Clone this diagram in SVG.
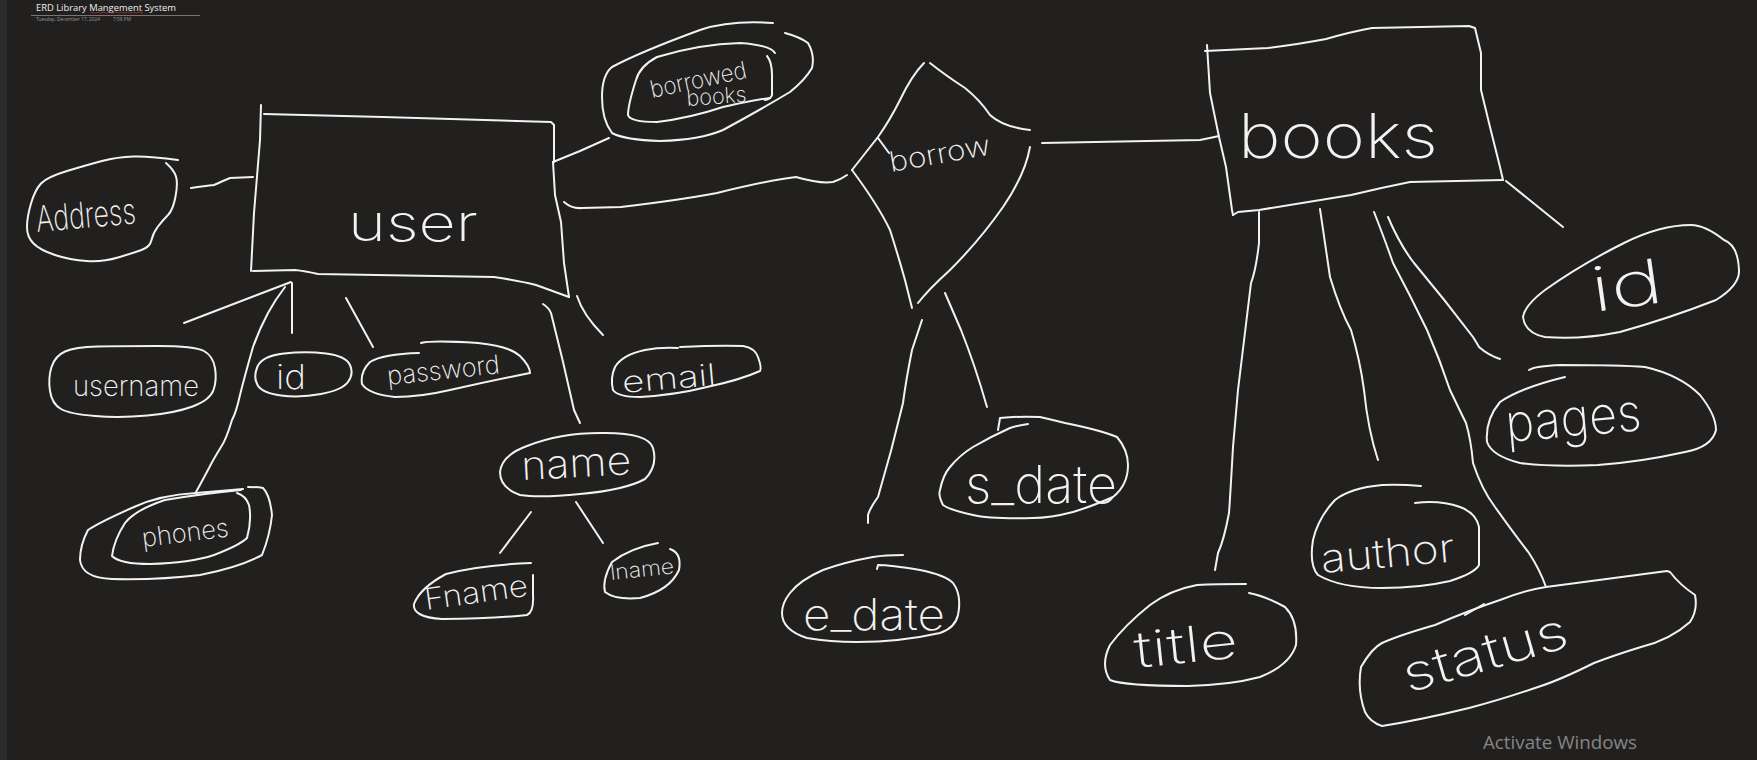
<svg xmlns="http://www.w3.org/2000/svg" width="1757" height="760" viewBox="0 0 1757 760">
  <style>
    .ln { fill: none; stroke: #f2f2f2; stroke-width: 2; stroke-linecap: round; stroke-linejoin: round; }
    .hw { font-family: Inter, "Open Sans", "Liberation Sans", sans-serif; font-weight: 200; fill: #f2f2f2; }
    .hdr { font-family: "Open Sans", "Liberation Sans", sans-serif; }
  </style>

  <!-- page background and side strip -->
  <rect x="0" y="0" width="1757" height="760" fill="#21201f"/>
  <rect x="0" y="0" width="7" height="760" fill="#2c2c2c"/>

  <!-- page header -->
  <g id="page-header">
    <text class="hdr" x="36" y="10.7" font-size="9" fill="#eeeeee" textLength="140" lengthAdjust="spacingAndGlyphs">ERD Library Mangement System</text>
    <path d="M90,12.6 q1.5,-0.8 3,0 t3,0 t3,0 t3,0 t3,0 t3,0 t3,0 t3,0 t3,0 t3,0 t3,0 t3,0 t3,0 t3,0 t3,0 t3,0 t3,0 t2,0" fill="none" stroke="#d0312d" stroke-width="0.6"/>
    <line x1="31" y1="15.5" x2="200" y2="15.5" stroke="#8c8c8c" stroke-width="0.8"/>
    <text class="hdr" x="36" y="20.5" font-size="4.5" fill="#9a9a9a" textLength="64" lengthAdjust="spacingAndGlyphs">Tuesday, December 17, 2024</text>
    <text class="hdr" x="113" y="20.5" font-size="4.5" fill="#9a9a9a" textLength="18" lengthAdjust="spacingAndGlyphs">7:58 PM</text>
  </g>

  <!-- relationship lines -->
  <g id="connectors" class="ln">
    <path d="M191,188 Q205,186 214,185 Q225,180 230,178 L253,177"/>
    <path d="M291,282 L184,323"/>
    <path d="M285,287 Q275,300 268,313 Q259,330 253,347 Q245,375 240,395 Q236,413 232,420 Q226,440 221,447 Q213,460 209,468 Q200,485 196,492"/>
    <path d="M292,283 L292,333"/>
    <path d="M346,298 L373,347"/>
    <path d="M543,304 Q549,308 551,313 Q563,360 574,410 L580,423"/>
    <path d="M577,296 Q583,315 603,335"/>
    <path d="M531,512 L500,553"/>
    <path d="M576,502 L603,543"/>
    <path d="M553,162 L580,151 L609,138"/>
    <path d="M564,202 Q572,209 582,208 L621,207 Q680,200 717,193 Q770,180 796,177 Q820,184 833,182 Q840,180 847,175"/>
    <path d="M1042,143 L1200,140 Q1210,138 1219,136"/>
    <path d="M945,293 L961,330 Q975,365 987,407"/>
    <path d="M922,320 L912,350 Q906,380 903,403 Q892,450 878,497 Q870,508 868,515 L868,523"/>
    <path d="M1506,181 L1563,227"/>
    <path d="M1259,212 L1259,243 Q1256,270 1251,283 Q1244,340 1238,390 L1233,447 Q1230,500 1229,513 Q1224,540 1218,553 L1215,570"/>
    <path d="M1320,209 Q1326,250 1330,277 Q1340,310 1351,330 Q1360,360 1364,390 Q1368,430 1378,460"/>
    <path d="M1374,212 Q1385,240 1393,263 Q1410,295 1427,330 Q1440,360 1450,390 Q1462,415 1466,423 Q1471,440 1473,463 Q1482,490 1495,507 Q1515,535 1529,553 Q1540,570 1546,587"/>
    <path d="M1388,217 Q1400,245 1414,263 Q1445,300 1473,337 Q1478,345 1479,347 Q1488,355 1500,359"/>
  </g>

  <!-- entity: user -->
  <g id="entity-user">
    <g class="ln">
      <path d="M261,105 L260,140 L254,213 L251,271"/>
      <path d="M264,114 L383,117 L551,122 L554,125 L554,162"/>
      <path d="M553,162 L555,195 L561,222 L564,263 L569,297"/>
      <path d="M253,271 L295,270 Q305,271 318,274 L494,277 Q520,281 536,285 L569,297"/>
    </g>
    <text class="hw" x="348" y="241" font-size="50" textLength="130" lengthAdjust="spacingAndGlyphs">user</text>
  </g>

  <!-- entity: books -->
  <g id="entity-books">
    <g class="ln">
      <path d="M1207,45 L1210,93 L1219,137 L1226,167 L1232,210 L1233,215"/>
      <path d="M1205,51 L1268,48 Q1300,44 1326,39 Q1350,32 1372,28 L1469,26 L1475,28 L1481,53 L1481,90 L1490,127 L1500,167 L1503,180"/>
      <path d="M1503,180 L1410,182 Q1380,188 1351,195 L1259,210 L1238,212 L1233,215"/>
    </g>
    <text class="hw" x="1238" y="158" font-size="62" textLength="200" lengthAdjust="spacingAndGlyphs">books</text>
  </g>

  <!-- relationship: borrow -->
  <g id="rel-borrow">
    <g class="ln">
      <path d="M852,170 L878,137 Q890,120 900,100 Q912,75 924,63"/>
      <path d="M930,63 Q945,75 965,88 Q980,100 990,115 Q1003,127 1030,130"/>
      <path d="M1030,147 Q1025,175 1003,207 Q980,240 950,270 Q928,290 918,303"/>
      <path d="M852,170 Q878,205 890,230 Q898,255 905,280 L912,308"/>
      <path d="M878,138 L889,153"/>
    </g>
    <text class="hw" x="891" y="172" font-size="28" textLength="102" lengthAdjust="spacingAndGlyphs" transform="rotate(-10 891 172)">borrow</text>
  </g>

  <!-- user attributes -->
  <g id="attr-address">
    <path class="ln" d="M178,160 Q150,156 133.5,156.5 Q117,157 102,161 Q87,165 67,171 Q47,177 41,183.5 Q35,190 31,203.5 Q27,217 27,227 Q27,237 33.5,243.5 Q40,250 55,255 Q70,260 86.5,261 Q103,262 118,257.5 Q133,253 141.5,250 Q150,247 151.5,240 Q153,233 158,226.5 Q163,220 168,215 Q173,210 175.5,196.5 Q178,183 176,176.5 Q174,170 166,163"/>
    <text class="hw" x="37" y="232" font-size="36" textLength="100" lengthAdjust="spacingAndGlyphs" transform="rotate(-5 37 232)">Address</text>
  </g>

  <g id="attr-username">
    <path class="ln" d="M157.5,346 Q195,346 204,351 Q213,356 215,368 Q217,380 213.5,390 Q210,400 192.5,406.5 Q175,413 147.5,415.5 Q120,418 95,416 Q70,414 61,409 Q52,404 50,391 Q48,378 51.5,367 Q55,356 65,351.5 Q75,347 97.5,346.5 Q120,346 157.5,346 Z"/>
    <text class="hw" x="73" y="396" font-size="28" textLength="126" lengthAdjust="spacingAndGlyphs">username</text>
  </g>

  <g id="attr-user-id">
    <path class="ln" d="M257.5,366.5 Q262,356 284,353.5 Q306,351 326,353.5 Q346,356 350,365 Q354,374 348,382 Q342,390 321,394 Q300,398 281,395.5 Q262,393 257.5,385 Q253,377 257.5,366.5 Z"/>
    <text class="hw" x="276" y="389" font-size="34" textLength="30" lengthAdjust="spacingAndGlyphs">id</text>
  </g>

  <g id="attr-password">
    <path class="ln" d="M419,353 Q383,354 370,362 Q360,372 362,384 Q368,394 395,397 Q420,397 450,390 Q490,381 530,373"/>
    <path class="ln" d="M421,343 Q432,340 478,343 Q509,346 520,356 Q530,366 530,373"/>
    <text class="hw" x="388" y="385" font-size="26" textLength="113" lengthAdjust="spacingAndGlyphs" transform="rotate(-6 388 385)">password</text>
  </g>

  <g id="attr-email">
    <path class="ln" d="M680,347 Q720,345 743,346 Q755,348 758,357 Q762,368 760,371 Q740,380 707,387 Q675,395 640,397 Q618,397 613,390 Q610,378 615,367 Q622,355 645,350 Q660,347 678,348"/>
    <text class="hw" x="623" y="393" font-size="30" textLength="94" lengthAdjust="spacingAndGlyphs" transform="rotate(-5 623 393)">email</text>
  </g>

  <g id="attr-phones">
    <path class="ln" d="M196,493 Q160,495 134,507 Q100,522 88,530 Q80,545 80,560 Q82,578 112,579 Q160,580 200,575 Q240,567 262,555 Q270,535 272,515 Q270,495 263,488 Q258,487 248,487"/>
    <path class="ln" d="M196,493 L243,489"/>
    <path class="ln" d="M241,490 Q200,494 165,500 Q135,510 125,523 Q114,540 112,556 Q120,564 150,564 Q190,563 214,555 Q240,545 247,538 Q252,520 249,505 Q246,496 237,493"/>
    <text class="hw" x="143" y="547" font-size="26" textLength="87" lengthAdjust="spacingAndGlyphs" transform="rotate(-7 143 547)">phones</text>
  </g>

  <g id="attr-name">
    <path class="ln" d="M600,433 Q648,432 653,448 Q658,466 645,479 Q625,490 580,494 Q540,498 520,495 Q500,488 500,472 Q502,455 527,446 Q560,433 600,433 Z"/>
    <text class="hw" x="522" y="480" font-size="40" textLength="110" lengthAdjust="spacingAndGlyphs" transform="rotate(-3 522 480)">name</text>
  </g>

  <g id="attr-fname">
    <path class="ln" d="M531,563 Q480,565 446,574 Q420,588 414,604 Q412,617 442,619 Q490,619 527,615 Q534,612 533,595 L533,575"/>
    <text class="hw" x="426" y="610" font-size="30" textLength="104" lengthAdjust="spacingAndGlyphs" transform="rotate(-8 426 610)">Fname</text>
  </g>

  <g id="attr-lname">
    <path class="ln" d="M658,543 Q630,548 612,562 Q602,580 605,592 Q615,600 640,598 Q670,590 679,570 Q682,553 670,549"/>
    <text class="hw" x="611" y="580" font-size="21" textLength="64" lengthAdjust="spacingAndGlyphs" transform="rotate(-6 611 580)">lname</text>
  </g>

  <g id="attr-borrowed-books">
    <path class="ln" d="M785,33 Q800,37 808,43 Q815,55 812,68 Q805,80 790,92 Q760,110 723,130 Q700,140 660,141 Q625,140 612,133 Q602,120 602,97 Q602,75 612,67 Q640,52 700,30 Q730,20 773,23"/>
    <path class="ln" d="M775,53 Q770,45 740,43 Q700,44 657,57 Q640,66 636,80 Q628,105 628,115 Q630,122 657,122 Q690,118 723,107 Q760,99 770,98"/>
    <path class="ln" d="M767,56 Q772,62 772,75 L772,95 Q771,99 765,100"/>
    <text class="hw" x="652" y="98" font-size="24" textLength="98" lengthAdjust="spacingAndGlyphs" transform="rotate(-12 652 98)">borrowed</text>
    <text class="hw" x="687" y="106" font-size="22" textLength="60" lengthAdjust="spacingAndGlyphs" transform="rotate(-4 687 106)">books</text>
  </g>

  <!-- borrow attributes -->
  <g id="attr-s-date">
    <path class="ln" d="M998,430 L1000,418 Q1020,416 1040,417 Q1053,420 1065,423 Q1100,430 1117,437 Q1128,450 1128,465 Q1128,485 1113,497 Q1090,507 1073,512 Q1050,518 1033,518 Q990,519 973,515 Q950,510 943,505 Q938,495 940,490 Q943,475 950,467 Q960,455 973,447 Q990,437 1010,428 Q1020,425 1028,424"/>
    <text class="hw" x="965" y="503" font-size="52" textLength="152" lengthAdjust="spacingAndGlyphs">s_date</text>
  </g>

  <g id="attr-e-date">
    <path class="ln" d="M903,555 Q885,555 873,557 Q845,562 823,570 Q800,580 790,593 Q782,603 782,613 Q782,630 807,638 Q830,642 857,642 Q900,642 940,633 Q955,628 958,615 Q962,595 953,583 Q945,575 920,570 Q890,565 878,565 L877,569"/>
    <text class="hw" x="803" y="630" font-size="44" textLength="142" lengthAdjust="spacingAndGlyphs">e_date</text>
  </g>

  <!-- books attributes -->
  <g id="attr-book-id">
    <path class="ln" d="M1691,225 Q1660,225 1624,243 Q1580,265 1545,290 Q1525,305 1523,317 Q1525,333 1545,337 Q1580,340 1620,332 Q1670,318 1716,300 Q1740,285 1739,270 Q1738,245 1724,240 Q1705,225 1691,225 Z"/>
    <text class="hw" x="1594" y="312" font-size="62" textLength="72" lengthAdjust="spacingAndGlyphs" transform="rotate(-8 1594 312)">id</text>
  </g>

  <g id="attr-pages">
    <path class="ln" d="M1529,370 Q1535,366 1561,365 Q1620,365 1645,367 Q1680,375 1700,395 Q1716,415 1716,430 Q1712,447 1685,452 Q1640,462 1598,465 Q1550,467 1520,463 Q1492,456 1487,442 Q1485,420 1500,402 Q1520,388 1565,377"/>
    <text class="hw" x="1507" y="442" font-size="52" textLength="136" lengthAdjust="spacingAndGlyphs" transform="rotate(-5 1507 442)">pages</text>
  </g>

  <g id="attr-author">
    <path class="ln" d="M1421,486 Q1400,484 1382,485 Q1350,488 1335,500 Q1318,518 1313,540 Q1309,565 1318,575 Q1340,588 1382,588 Q1420,588 1450,581 Q1475,573 1479,565 L1479,527 Q1476,513 1460,507 Q1440,500 1415,503"/>
    <text class="hw" x="1322" y="573" font-size="40" textLength="134" lengthAdjust="spacingAndGlyphs" transform="rotate(-5 1322 573)">author</text>
  </g>

  <g id="attr-title">
    <path class="ln" d="M1246,584 Q1215,584 1197,585 Q1170,590 1150,605 Q1125,625 1110,645 Q1100,665 1110,680 Q1125,686 1188,686 Q1230,685 1260,677 Q1290,665 1296,645 Q1298,620 1285,607 Q1265,596 1249,593"/>
    <text class="hw" x="1136" y="668" font-size="50" textLength="104" lengthAdjust="spacingAndGlyphs" transform="rotate(-6 1136 668)">title</text>
  </g>

  <g id="attr-status">
    <path class="ln" d="M1546,587 Q1600,580 1667,571 L1670,572 Q1680,585 1695,595 Q1698,610 1690,622 Q1670,640 1641,647 Q1615,655 1594,663 Q1560,680 1538,687 Q1500,700 1469,708 Q1420,720 1382,726 Q1370,722 1365,712 Q1357,690 1361,667 Q1372,648 1382,643 Q1400,635 1435,625 Q1470,610 1500,600 Q1525,590 1546,587"/>
    <path class="ln" d="M1484,604 L1465,615"/>
    <text class="hw" x="1408" y="693" font-size="50" textLength="170" lengthAdjust="spacingAndGlyphs" transform="rotate(-16 1408 693)">status</text>
  </g>

  <!-- system watermark -->
  <text class="hdr" x="1483" y="749" font-size="18" fill="#858585" textLength="154" lengthAdjust="spacingAndGlyphs">Activate Windows</text>
</svg>
